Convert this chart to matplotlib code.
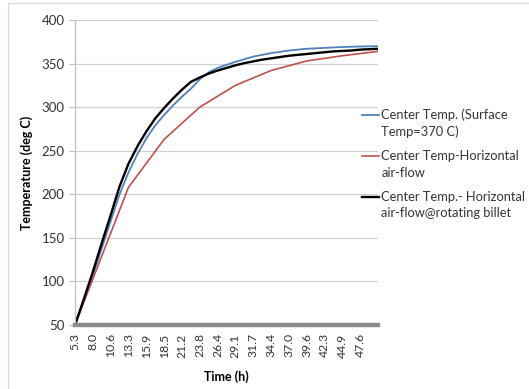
import matplotlib.pyplot as plt
import numpy as np
from matplotlib.patches import Rectangle
from matplotlib.lines import Line2D
from matplotlib.legend_handler import HandlerLine2D

plt.rcParams['font.family'] = ['Lato', 'DejaVu Sans']

# category axis (Excel style): only every second category is labelled
tick_labels = ['5.3', '8.0', '10.6', '13.3', '15.9', '18.5', '21.2', '23.8', '26.4',
               '29.1', '31.7', '34.4', '37.0', '39.6', '42.3', '44.9', '47.6']
n_cat = 35

surface_370 = [50, 78, 107, 138, 169, 200, 225, 246, 264, 279, 291, 302, 312, 321,
               332, 340, 345, 348.5, 352, 355, 358, 360, 362, 363.5, 365, 366,
               367, 367.5, 368, 368.5, 369, 369.3, 369.6, 369.8, 370]
rotating = [50, 80, 111, 144, 176, 209, 235, 255, 272, 287, 299, 310, 320, 329,
            334, 338.5, 342, 345, 348, 350.5, 352.5, 354.5, 356, 357.5, 359, 360,
            361, 362, 363, 364, 364.5, 365, 366, 366.5, 367]
# horizontal air-flow series only has every 4th category filled
horiz_idx = [0, 6, 10, 14, 18, 22, 26, 30, 34]
horiz_vals = [50, 208, 263, 300, 325, 342, 353, 359, 364]

labels = ['Center Temp. (Surface\nTemp=370 C)',
          'Center Temp-Horizontal\nair-flow',
          'Center Temp.- Horizontal\nair-flow@rotating billet']


class FirstLineHandler(HandlerLine2D):
    # put the legend line next to the first text line, like Excel does
    def create_artists(self, legend, orig_handle, xdescent, ydescent,
                       width, height, fontsize, trans):
        arts = super().create_artists(legend, orig_handle, xdescent, ydescent,
                                      width, height, fontsize, trans)
        for a in arts:
            if isinstance(a, Line2D):
                a.set_ydata(np.asarray(a.get_ydata()) + 6.2)
        return arts


fig = plt.figure(figsize=(5.29, 3.89), dpi=100)
ax = fig.add_axes([75/529, 1-325/389, 303/529, 305/389])

x = np.arange(n_cat)
ax.plot(x, surface_370, color='#4F81BD', lw=1.3, label=labels[0])
ax.plot(horiz_idx, horiz_vals, color='#C0504D', lw=1.2, label=labels[1])
ax.plot(x, rotating, color='black', lw=1.7, label=labels[2])

ax.set_xlim(0, n_cat - 1)
ax.set_ylim(50, 400)
ax.set_yticks(range(50, 401, 50))
ax.set_xticks(range(0, n_cat - 1, 2))
ax.set_xticklabels(tick_labels, rotation=90)
ax.tick_params(axis='x', length=0, pad=6, labelsize=8.8, colors='#333333')
ax.tick_params(axis='y', length=4, color='#bfbfbf', labelsize=9.5, colors='#333333')

ax.grid(axis='y', color='#d0d0d0', lw=0.9)
ax.set_axisbelow(True)
for s in ['top', 'right']:
    ax.spines[s].set_visible(False)
ax.spines['left'].set_color('#bfbfbf')
ax.spines['left'].set_linewidth(0.9)
ax.spines['bottom'].set_color('#8c8c8c')
ax.spines['bottom'].set_linewidth(3.2)

ax.set_xlabel('Time (h)', fontsize=9, fontweight='bold', labelpad=9)
ax.set_ylabel('Temperature (deg C)', fontsize=9, fontweight='bold', labelpad=6)

leg = fig.legend(loc='upper left', bbox_to_anchor=(362/529, 1 - 108/389),
                 frameon=False, fontsize=9.3, handlelength=1.3,
                 handletextpad=0.2, labelspacing=0.95, borderaxespad=0,
                 borderpad=0, handler_map={Line2D: FirstLineHandler()})
for t in leg.get_texts():
    t.set_color('#333333')
    t.set_linespacing(1.45)

fig.add_artist(Rectangle((8/529, -0.1), 1.2, 1 - 3/389 + 0.1,
                         transform=fig.transFigure, fill=False,
                         edgecolor='#d9d9d9', lw=0.9))

fig.savefig('out.png', dpi=100)
